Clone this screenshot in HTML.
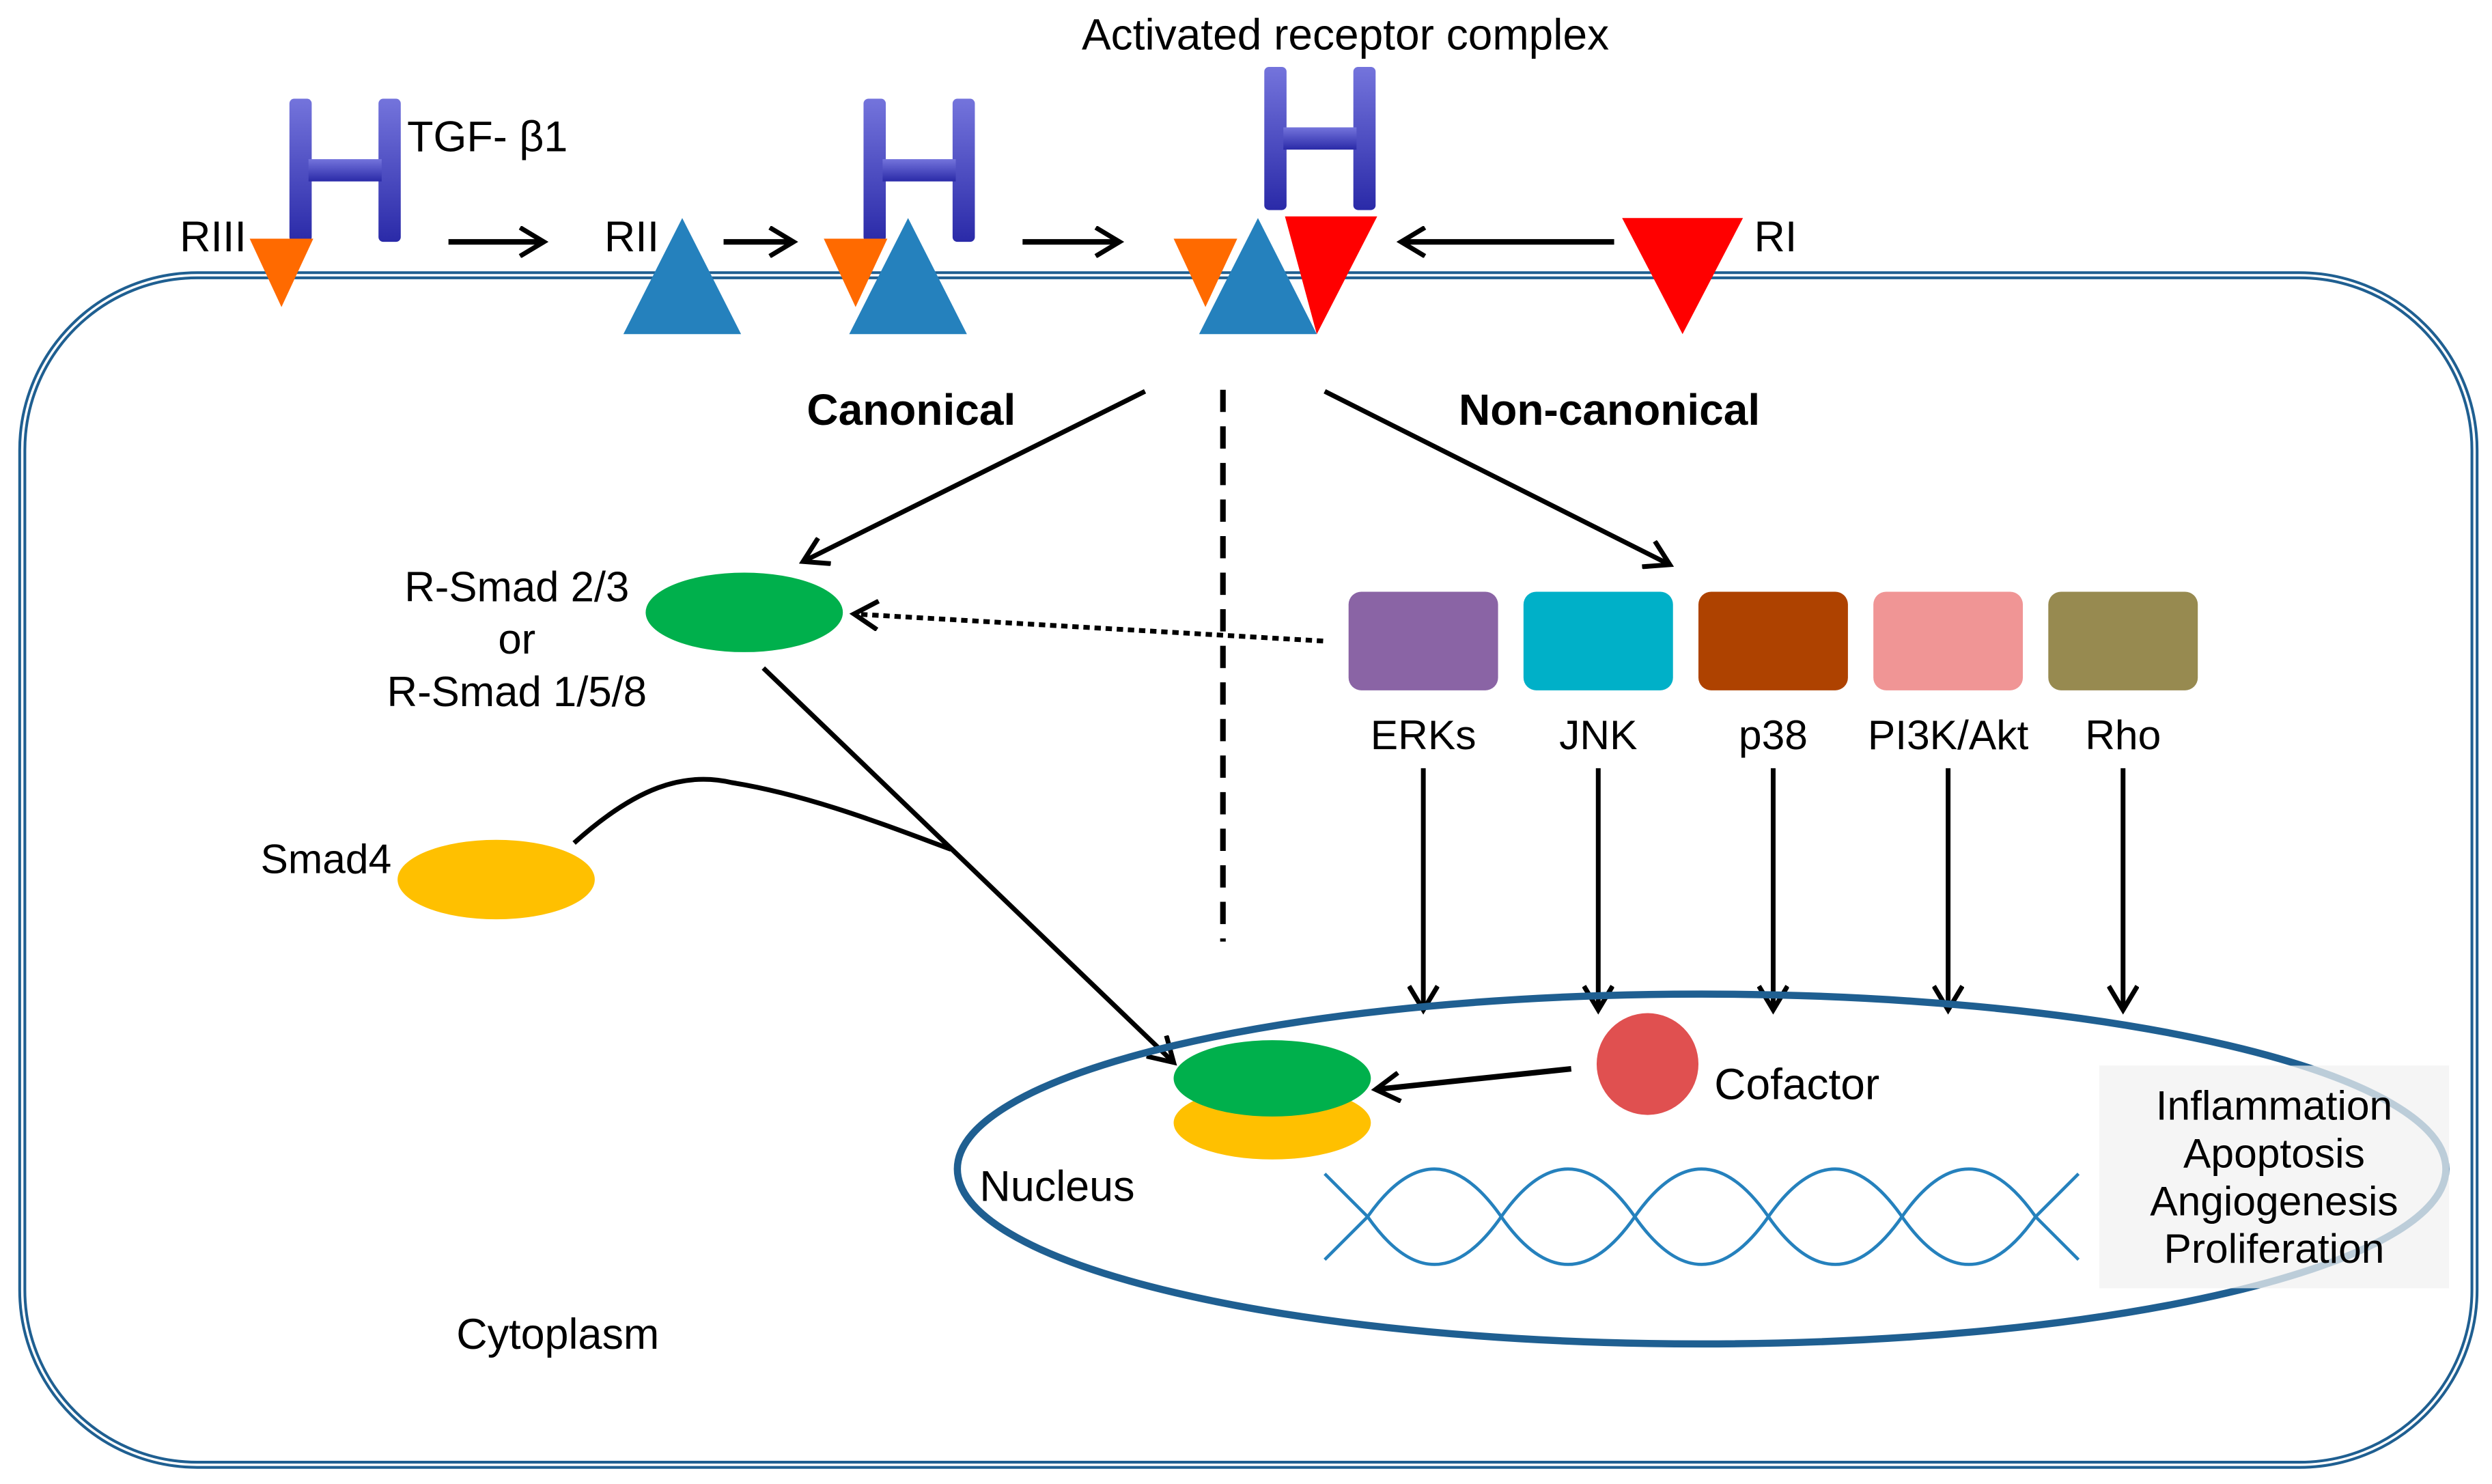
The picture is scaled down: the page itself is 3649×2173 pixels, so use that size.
<!DOCTYPE html>
<html><head><meta charset="utf-8"><style>
html,body{margin:0;padding:0;background:#fff;}
svg{display:block;}
text{font-family:"Liberation Sans",Arial,sans-serif;fill:#000;}
</style></head><body>
<svg width="3649" height="2173" viewBox="0 0 1567 933" xmlns="http://www.w3.org/2000/svg">
<defs>
<marker id="b" markerWidth="20" markerHeight="20" refX="17" refY="10" orient="auto" markerUnits="userSpaceOnUse">
<path d="M2,1 L17,10 L2,19" fill="none" stroke="#000" stroke-width="3"/>
</marker>
<linearGradient id="hg" x1="0" y1="0" x2="0" y2="1">
<stop offset="0" stop-color="#7474dc"/><stop offset="1" stop-color="#2a2aa8"/>
</linearGradient>
<g id="H">
<rect x="0" y="0" width="14" height="90" rx="3" fill="url(#hg)"/>
<rect x="56" y="0" width="14" height="90" rx="3" fill="url(#hg)"/>
<rect x="12" y="38" width="46" height="14" fill="url(#hg)"/>
</g>
</defs>

<rect x="14" y="173" width="1542" height="748" rx="110" fill="none" stroke="#1f5f91" stroke-width="5"/>
<rect x="14" y="173" width="1542" height="748" rx="110" fill="none" stroke="#fff" stroke-width="1.5"/>

<use href="#H" x="182" y="62"/>
<use href="#H" x="543" y="62"/>
<use href="#H" x="795" y="42"/>

<polygon points="157,150 197,150 177,193" fill="#ff6a00"/>
<polygon points="392,210 466,210 429,137" fill="#2581bd"/>
<polygon points="518,150 558,150 538,193" fill="#ff6a00"/>
<polygon points="534,210 608,210 571,137" fill="#2581bd"/>
<polygon points="738,150 778,150 758,193" fill="#ff6a00"/>
<polygon points="754,210 828,210 791,137" fill="#2581bd"/>
<polygon points="808,136 866,136 828,210" fill="#ff0000"/>
<polygon points="1020,137 1096,137 1058,210" fill="#ff0000"/>

<g stroke="#000" stroke-width="3.5" fill="none">
<line x1="282" y1="152" x2="342" y2="152" marker-end="url(#b)"/>
<line x1="455" y1="152" x2="499" y2="152" marker-end="url(#b)"/>
<line x1="643" y1="152" x2="704" y2="152" marker-end="url(#b)"/>
<line x1="1015" y1="152" x2="881" y2="152" marker-end="url(#b)"/>
</g>

<text x="846" y="31" font-size="27.5" text-anchor="middle">Activated receptor complex</text>
<text x="256" y="95" font-size="27">TGF- β1</text>
<text x="113" y="158" font-size="27">RIII</text>
<text x="380" y="158" font-size="27">RII</text>
<text x="1103" y="158" font-size="27">RI</text>
<text x="573" y="267" font-size="27.5" font-weight="bold" text-anchor="middle">Canonical</text>
<text x="1012" y="267" font-size="27.5" font-weight="bold" text-anchor="middle">Non-canonical</text>

<line x1="769" y1="245" x2="769" y2="592" stroke="#000" stroke-width="3.5" stroke-dasharray="14,9"/>

<g stroke="#000" stroke-width="3" fill="none">
<line x1="720" y1="246" x2="505" y2="353" marker-end="url(#b)"/>
<line x1="833" y1="246" x2="1050" y2="355" marker-end="url(#b)"/>
<line x1="832" y1="403" x2="537" y2="386" stroke-dasharray="4,3" marker-end="url(#b)"/>
</g>

<ellipse cx="468" cy="385" rx="62" ry="25" fill="#00b04c"/>
<text x="325" y="378" font-size="26.5" text-anchor="middle">R-Smad 2/3</text>
<text x="325" y="411" font-size="26.5" text-anchor="middle">or</text>
<text x="325" y="444" font-size="26.5" text-anchor="middle">R-Smad 1/5/8</text>

<rect x="848" y="372" width="94" height="62" rx="8" fill="#8a64a5"/>
<rect x="958" y="372" width="94" height="62" rx="8" fill="#00b0c8"/>
<rect x="1068" y="372" width="94" height="62" rx="8" fill="#ae4200"/>
<rect x="1178" y="372" width="94" height="62" rx="8" fill="#f09595"/>
<rect x="1288" y="372" width="94" height="62" rx="8" fill="#978a50"/>
<g font-size="26" text-anchor="middle">
<text x="895" y="471">ERKs</text>
<text x="1005" y="471">JNK</text>
<text x="1115" y="471">p38</text>
<text x="1225" y="471">PI3K/Akt</text>
<text x="1335" y="471">Rho</text>
</g>
<g stroke="#000" stroke-width="3" fill="none">
<line x1="895" y1="483" x2="895" y2="635" marker-end="url(#b)"/>
<line x1="1005" y1="483" x2="1005" y2="635" marker-end="url(#b)"/>
<line x1="1115" y1="483" x2="1115" y2="635" marker-end="url(#b)"/>
<line x1="1225" y1="483" x2="1225" y2="635" marker-end="url(#b)"/>
<line x1="1335" y1="483" x2="1335" y2="635" marker-end="url(#b)"/>
</g>

<ellipse cx="312" cy="553" rx="62" ry="25" fill="#ffc000"/>
<text x="205" y="549" font-size="26" text-anchor="middle">Smad4</text>
<path d="M361,530 C400,495 430,485 460,492 C510,500 560,520 598,534" fill="none" stroke="#000" stroke-width="3"/>
<line x1="480" y1="420" x2="738" y2="668" stroke="#000" stroke-width="3" marker-end="url(#b)"/>

<ellipse cx="1070" cy="735" rx="468" ry="110" fill="none" stroke="#1f5f91" stroke-width="4.5"/>
<rect x="1320" y="670" width="220" height="140" fill="#f2f2f2" opacity="0.75"/>
<g font-size="26" text-anchor="middle">
<text x="1430" y="704">Inflammation</text>
<text x="1430" y="734">Apoptosis</text>
<text x="1430" y="764">Angiogenesis</text>
<text x="1430" y="794">Proliferation</text>
</g>
<ellipse cx="800" cy="706" rx="62" ry="23" fill="#ffc000"/>
<ellipse cx="800" cy="678" rx="62" ry="24" fill="#00b04c"/>
<circle cx="1036" cy="669" r="32" fill="#e05050"/>
<line x1="988" y1="672" x2="865" y2="685" stroke="#000" stroke-width="3.5" marker-end="url(#b)"/>
<text x="1078" y="691" font-size="27.5">Cofactor</text>
<text x="616" y="755" font-size="27">Nucleus</text>
<text x="287" y="848" font-size="27">Cytoplasm</text>

<g fill="none" stroke="#2581bd" stroke-width="2">
<path d="M833,738 L860,765 Q902,825 944,765 Q986,705 1028,765 Q1070,825 1112,765 Q1154,705 1196,765 Q1238,825 1280,765 L1307,738"/>
<path d="M833,792 L860,765 Q902,705 944,765 Q986,825 1028,765 Q1070,705 1112,765 Q1154,825 1196,765 Q1238,705 1280,765 L1307,792"/>
</g>
</svg>
</body></html>
